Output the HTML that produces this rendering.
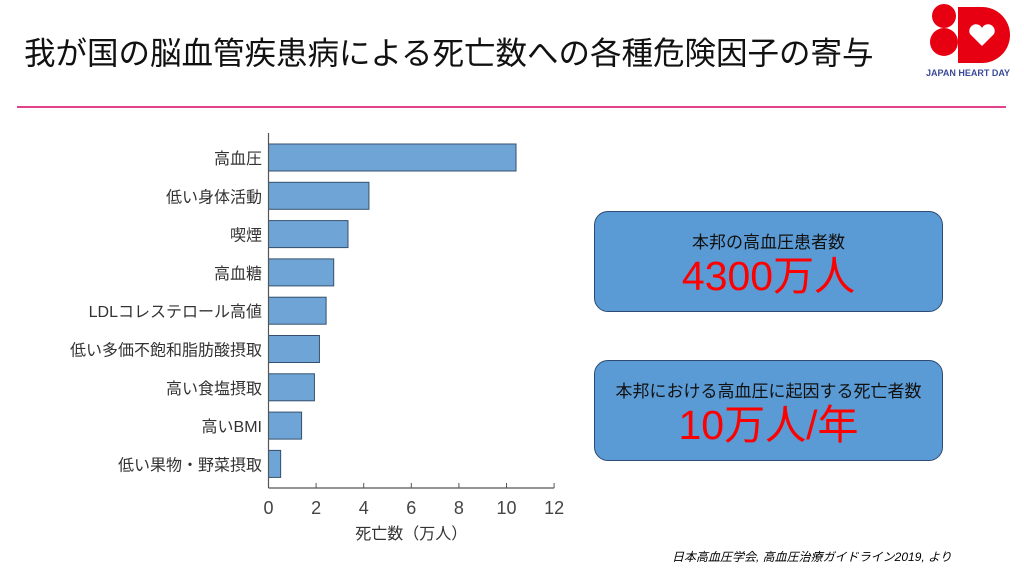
<!DOCTYPE html>
<html><head><meta charset="utf-8"><style>
body{margin:0;width:1024px;height:576px;background:#fff;position:relative;overflow:hidden;font-family:"Liberation Sans","Noto Sans CJK JP",sans-serif}
.t{position:absolute;left:24px;top:28px;font-size:31.5px;color:#111;white-space:nowrap}
.line{position:absolute;left:17px;top:106px;width:989px;height:2px;background:#e2418c}
.box{position:absolute;left:594px;width:349px;height:101px;background:#5b9bd5;border:1.5px solid #2e4a72;border-radius:14px;text-align:center;box-sizing:border-box}
.box .s{font-size:17px;color:#111;margin-top:16px}
.box .b{font-size:41px;color:#ff0000;line-height:46px}
.src{position:absolute;left:672px;top:548px;font-size:12px;font-style:italic;color:#000;white-space:nowrap}
</style></head><body>
<div class="t">我が国の脳血管疾患病による死亡数への各種危険因子の寄与</div>
<svg style="position:absolute;left:918px;top:2px" width="100" height="80">
<circle cx="26" cy="14" r="12" fill="#e60012"/><circle cx="26" cy="40" r="14" fill="#e60012"/>
<rect x="40" y="5" width="10" height="56" fill="#e60012"/><path d="M50 5 h14 a28 28 0 0 1 0 56 h-14z" fill="#e60012"/>
<path d="M64 44 l-12 -12 a6 6 0 0 1 12 -6 a6 6 0 0 1 12 6z" fill="#fff"/>
<text x="50" y="74" font-size="9" font-weight="bold" fill="#3a4a9a" text-anchor="middle" font-family="Liberation Sans">JAPAN HEART DAY</text></svg>
<div class="line"></div>
<svg id="chart" style="position:absolute;left:0;top:0" width="600" height="576"></svg>
<div class="box" style="top:211px"><div class="s">本邦の高血圧患者数</div><div class="b">4300万人</div></div>
<div class="box" style="top:360px"><div class="s">本邦における高血圧に起因する死亡者数</div><div class="b">10万人/年</div></div>
<div class="src">日本高血圧学会, 高血圧治療ガイドライン2019, より</div>
<script>
const categories=["高血圧","低い身体活動","喫煙","高血糖","LDLコレステロール高値","低い多価不飽和脂肪酸摂取","高い食塩摂取","高いBMI","低い果物・野菜摂取"];
const values=[10.4,4.22,3.34,2.74,2.42,2.14,1.93,1.39,0.51];
const ticks=[0,2,4,6,8,10,12];
const svg=document.getElementById('chart');const NS='http://www.w3.org/2000/svg';
const x=v=>268.5+v*23.8;const y=i=>144+i*38.3;
function mk(t,a){const e=document.createElementNS(NS,t);for(const k in a)e.setAttribute(k,a[k]);svg.appendChild(e);return e;}
categories.forEach((c,i)=>{
const r=mk('rect',{x:x(0),y:y(i),width:x(values[i])-x(0),height:27,fill:'#6fa5d6',stroke:'#34506e','stroke-width':1});


const t=mk('text',{x:262,y:y(i)+20,'text-anchor':'end','font-size':16,fill:'#333'});t.textContent=c;


});
mk('line',{x1:x(0),y1:133,x2:x(0),y2:488,stroke:'#555','stroke-width':1.2});
mk('line',{x1:x(0),y1:488,x2:x(12),y2:488,stroke:'#555','stroke-width':1.2});
ticks.forEach(v=>{mk('line',{x1:x(v),y1:483,x2:x(v),y2:488,stroke:'#555'});
const t=mk('text',{x:x(v),y:514,'text-anchor':'middle','font-size':18,fill:'#444'});t.textContent=v;

});
const xt=mk('text',{x:x(6),y:539,'text-anchor':'middle','font-size':16,fill:'#333'});xt.textContent='死亡数（万人）';


</script>
</body></html>
